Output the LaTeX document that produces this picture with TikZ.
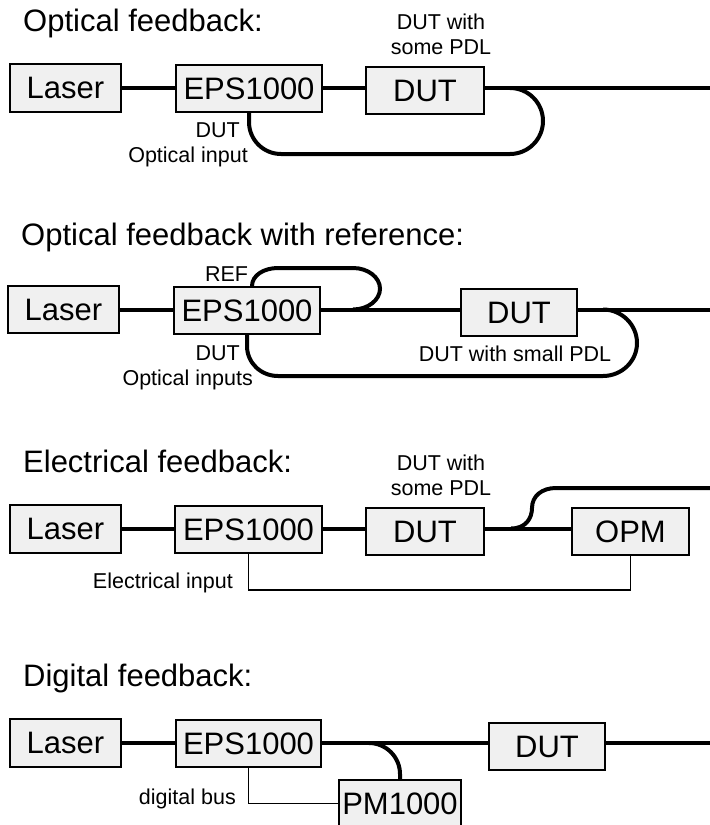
\documentclass[tikz,border=0pt]{standalone}
\usepackage{fontspec}
\setmainfont{Liberation Sans}
\usetikzlibrary{calc}
\definecolor{boxfill}{RGB}{240,240,240}
\newcommand{\myBig}{\fontsize{31bp}{37bp}\selectfont}
\newcommand{\mySmall}{\fontsize{21.5bp}{25bp}\selectfont}
\begin{document}
\begin{tikzpicture}[x=1bp,y=-1bp,
  blk/.style={draw, line width=2bp, fill=boxfill, inner sep=0pt, font=\myBig, minimum height=47bp},
  fiber/.style={line width=4bp},
  elec/.style={line width=1.2bp},
  ttl/.style={anchor=base west, inner sep=0pt, font=\myBig},
  lbl/.style={inner sep=0pt, font=\mySmall}]
\useasboundingbox (0,0) rectangle (710,825);
\clip (0,0) rectangle (710,825);

% ---------- Optical feedback ----------
\node[ttl] (T1) at (23,31) {Optical feedback:};
\node[blk, minimum width=111bp, minimum height=48bp] (L1) at (65.5,88) {Laser};
\node[blk, minimum width=146bp] (E1) at (249,88.5) {EPS1000};
\node[blk, minimum width=118bp] (D1) at (425,90.5) {DUT};
\coordinate (o1) at (710,88);
\coordinate (j1) at (510,88);
\draw[fiber] (L1.east) -- (L1.east -| E1.west);
\draw[fiber] (E1.east |- L1.east) -- (D1.west |- L1.east);
\draw[fiber] (D1.east |- L1.east) -- (o1);
\draw[fiber] (j1) .. controls +(18.2,0) and +(0,-18.2) .. (543,121)
  .. controls +(0,18.2) and +(18.2,0) .. (510,154) -- (281,154)
  .. controls +(-17.7,0) and +(0,17.7) .. (249,122) -- (E1.south);
\node[lbl, align=center] (P1) at (441,34.7) {DUT with\\some PDL};
\node[lbl, anchor=base east] (I1a) at (240,137) {DUT};
\node[lbl, anchor=base east] (I1b) at (248,162) {Optical input};

% ---------- Optical feedback with reference ----------
\node[ttl] (T2) at (21,245) {Optical feedback with reference:};
\node[blk, minimum width=111bp] (L2) at (63.5,309.5) {Laser};
\node[blk, minimum width=146bp] (E2) at (247,310.5) {EPS1000};
\node[blk, minimum width=116bp] (D2) at (519,312.5) {DUT};
\coordinate (o2) at (710,309.5);
\coordinate (j2) at (603,309.5);
\coordinate (r2) at (353,309.5);
\draw[fiber] (L2.east) -- (L2.east -| E2.west);
\draw[fiber] (E2.east |- L2.east) -- (D2.west |- L2.east);
\draw[fiber] (D2.east |- L2.east) -- (o2);
\draw[fiber] ([xshift=5bp]E2.north) .. controls +(0,-10.5) and +(-14.4,0) .. (278,268) -- (353,268)
  .. controls +(15,0) and +(0,-11.3) .. (380,288.7) .. controls +(0,11.3) and +(15,0) .. (r2);
\draw[fiber] (j2) .. controls +(18.5,0) and +(0,-18.5) .. (637,343)
  .. controls +(0,18.5) and +(18.5,0) .. (603,376) -- (278,376)
  .. controls +(-17,0) and +(0,17) .. (247,346) -- (E2.south);
\node[lbl, anchor=base] (R2) at (226.5,281) {REF};
\node[lbl, anchor=base east] (I2a) at (240,360) {DUT};
\node[lbl, anchor=base east] (I2b) at (253,385) {Optical inputs};
\node[lbl, anchor=base] (P2) at (515,361) {DUT with small PDL};

% ---------- Electrical feedback ----------
\node[ttl] (T3) at (23,472) {Electrical feedback:};
\node[blk, minimum width=111bp, minimum height=48bp] (L3) at (65.5,528.5) {Laser};
\node[blk, minimum width=147bp] (E3) at (248.5,529.5) {EPS1000};
\node[blk, minimum width=118bp] (D3) at (425,531.5) {DUT};
\node[blk, minimum width=117bp] (OPM) at (630.5,531.5) {OPM};
\coordinate (j3) at (511,528.5);
\coordinate (o3) at (710,488);
\draw[fiber] (L3.east) -- (L3.east -| E3.west);
\draw[fiber] (E3.east |- L3.east) -- (D3.west |- L3.east);
\draw[fiber] (D3.east |- L3.east) -- (OPM.west |- L3.east);
\draw[fiber] (j3) .. controls +(15,0) and +(0,10) .. (532,508)
  .. controls +(0,-12) and +(-14,0) .. (556,488) -- (o3);
\draw[elec] (E3.south) -- (E3.south |- 0,590) -| (OPM.south);
\node[lbl, align=center] (P3) at (441,475.7) {DUT with\\some PDL};
\node[lbl, anchor=base east] (I3) at (233,588) {Electrical input};

% ---------- Digital feedback ----------
\node[ttl] (T4) at (23,686) {Digital feedback:};
\node[blk, minimum width=111bp, minimum height=48bp] (L4) at (65.5,743) {Laser};
\node[blk, minimum width=145bp] (E4) at (248.5,743.5) {EPS1000};
\node[blk, minimum width=116bp] (D4) at (547,746.5) {DUT};
\node[blk, minimum width=122bp] (PM) at (400,803.5) {PM1000};
\coordinate (j4) at (369,743);
\coordinate (o4) at (710,743);
\draw[fiber] (L4.east) -- (L4.east -| E4.west);
\draw[fiber] (E4.east |- L4.east) -- (D4.west |- L4.east);
\draw[fiber] (D4.east |- L4.east) -- (o4);
\draw[fiber] (j4) .. controls +(17,0) and +(0,-17) .. (400,774) -- (PM.north);
\draw[elec] (E4.south) |- (PM.west);
\node[lbl, anchor=base east] (I4) at (236,804) {digital bus};
\end{tikzpicture}
\end{document}
